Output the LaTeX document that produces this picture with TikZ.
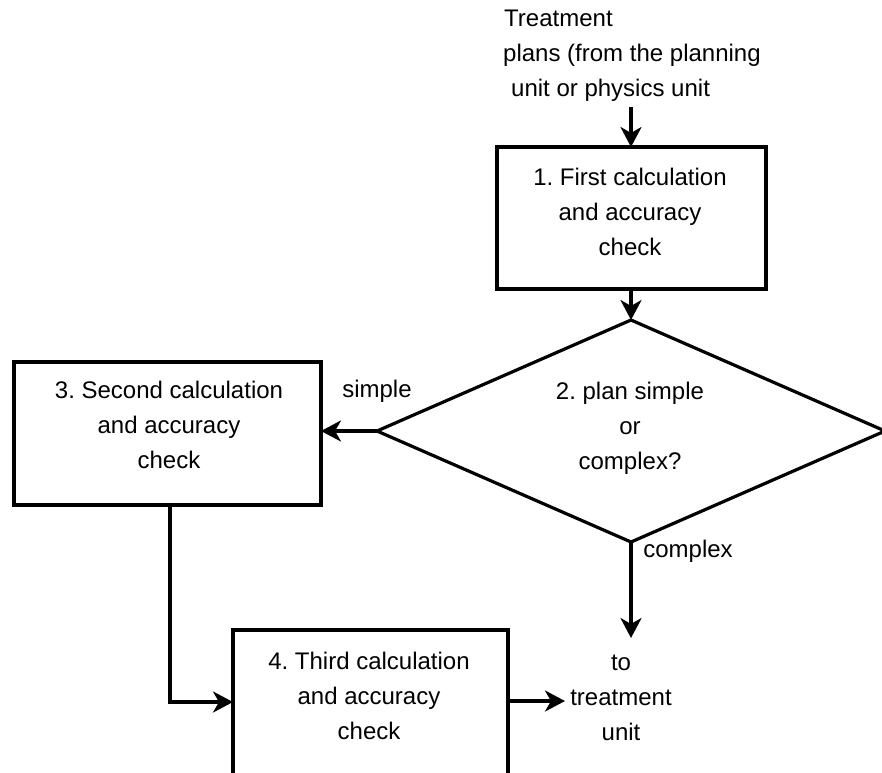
\documentclass[tikz,border=0pt]{standalone}
\usepackage{fontspec}
\setmainfont{Liberation Sans}
\usetikzlibrary{arrows.meta}
\begin{document}
\frenchspacing
\begin{tikzpicture}[x=1pt,y=-1pt,
  every node/.style={font=\fontsize{24}{35}\selectfont},
  box/.style={draw,line width=3.2pt},
  conn/.style={line width=3.2pt,-{Stealth[length=20pt,width=21pt,inset=6pt]}},
  plain/.style={line width=3.2pt},
  txt/.style={align=center,inner sep=0pt}]
\useasboundingbox (0,0) rectangle (882,772);
% boxes
\draw[box] (497,147) rectangle (766,289);
\coordinate (b1t) at (631,147);
\coordinate (b1b) at (631,289);
\draw[box] (14,362) rectangle (321,505);
\coordinate (b3r) at (321,431);
\coordinate (b3b) at (170,505);
\draw[box] (233,800) -- (233,630) -- (508,630) -- (508,800);
\coordinate (b4l) at (233,702);
\coordinate (b4r) at (508,701);
% diamond
\draw[plain,line join=miter] (631,320) -- (377,431) -- (631,542) -- (885,431) -- cycle;
\coordinate (dt) at (631,320);
\coordinate (dl) at (377,431);
\coordinate (db) at (631,542);
% texts
\node[txt,align=left,anchor=north west] (src) at (503,9.5) {\hspace*{1pt}Treatment\\plans (from the planning\\\hspace*{8pt}unit or physics unit};
\coordinate (srcb) at (631,107);
\node[txt] (t1) at (630,212) {1. First calculation\\and accuracy\\check};
\node[txt] (t3) at (169,425) {3. Second calculation\\and accuracy\\check};
\node[txt] (t2) at (630,428) {2. plan simple\\or\\complex?};
\node[txt] (t4) at (369,696) {4. Third calculation\\and accuracy\\check};
\node[txt] (out) at (621,698) {to\\treatment\\unit};
\node[txt] (ls) at (377,391) {simple};
\node[txt] (lc) at (688,551) {complex};
\coordinate (outl) at (565,701);
\coordinate (outt) at (631,638);
% connectors
\draw[conn] (srcb) -- (b1t);
\draw[conn] (b1b) -- (dt);
\draw[conn] (dl) -- (b3r);
\draw[conn] (db) -- (outt);
\draw[conn] (b3b) |- (b4l);
\draw[conn] (b4r) -- (outl);
\end{tikzpicture}
\end{document}
